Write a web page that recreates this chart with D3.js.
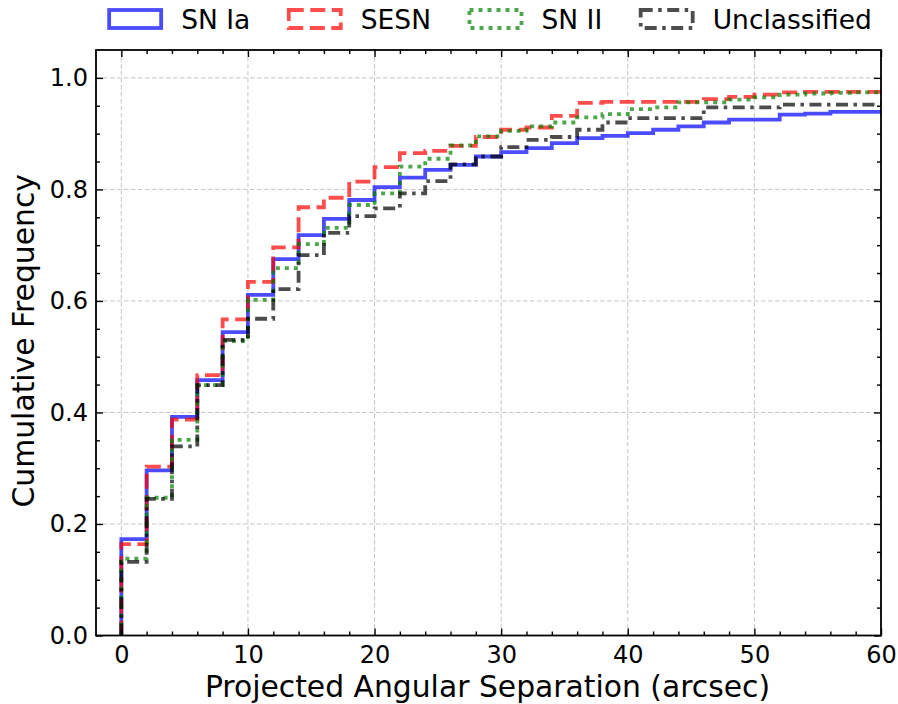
<!DOCTYPE html>
<html>
<head>
<meta charset="utf-8">
<script src="https://cdn.jsdelivr.net/npm/d3@7"></script>
<style>
  html, body { margin: 0; padding: 0; background: #ffffff; }
  svg { display: block; font-family: "DejaVu Sans", sans-serif; }
</style>
</head>
<body>
<svg id="chart" width="898" height="704"></svg>
<script>
// Bin edges of the cumulative histograms (arcsec, width 2)
const binStarts = d3.range(0, 60, 2);
const binEnd = 60;

// Cumulative fraction at the end of each bin
const snIa = [0.173, 0.296, 0.392, 0.458, 0.544, 0.611, 0.675, 0.718, 0.747, 0.781,
              0.804, 0.821, 0.835, 0.844, 0.859, 0.867, 0.874, 0.883, 0.892, 0.896,
              0.901, 0.907, 0.913, 0.920, 0.925, 0.925, 0.934, 0.936, 0.939, 0.939];
const sesn = [0.164, 0.303, 0.387, 0.467, 0.567, 0.634, 0.696, 0.768, 0.785, 0.814,
              0.840, 0.865, 0.869, 0.878, 0.894, 0.907, 0.911, 0.932, 0.955, 0.957,
              0.957, 0.957, 0.957, 0.962, 0.966, 0.970, 0.974, 0.975, 0.975, 0.975];
const snII = [0.138, 0.247, 0.351, 0.449, 0.528, 0.602, 0.659, 0.702, 0.731, 0.772,
              0.793, 0.841, 0.855, 0.879, 0.895, 0.905, 0.913, 0.920, 0.929, 0.935,
              0.944, 0.947, 0.956, 0.956, 0.961, 0.965, 0.970, 0.972, 0.973, 0.974];
const unclassified = [0.132, 0.245, 0.339, 0.449, 0.530, 0.568, 0.621, 0.682, 0.722, 0.752,
              0.766, 0.793, 0.815, 0.845, 0.859, 0.876, 0.889, 0.894, 0.907, 0.920,
              0.928, 0.928, 0.928, 0.947, 0.947, 0.947, 0.952, 0.952, 0.952, 0.952];

const seriesNames = ["SN Ia", "SESN", "SN II", "Unclassified"];
const seriesValues = [snIa, sesn, snII, unclassified];
const seriesColors = ["#0000ff", "#ff0000", "#008000", "#000000"];
const seriesDashes = [null, "15,6.5", "4,5", "12,5.5,3.5,5.5"];

const xTicks = [0, 10, 20, 30, 40, 50, 60];
const yTicks = [0.0, 0.2, 0.4, 0.6, 0.8, 1.0];

const svg = d3.select("#chart");
const m = { left: 96, right: 881, top: 50, bottom: 635.5 };

const x = d3.scaleLinear().domain([-2, 60]).range([m.left, m.right]);
const y = d3.scaleLinear().domain([0, 1.05]).range([m.bottom, m.top]);

svg.append("defs").append("clipPath").attr("id", "plotClip")
  .append("rect")
  .attr("x", m.left).attr("y", m.top)
  .attr("width", m.right - m.left).attr("height", m.bottom - m.top);

// Grid at major ticks
const grid = svg.append("g").attr("stroke", "#c4c4c4").attr("stroke-width", 1)
  .attr("stroke-dasharray", "4.5,2.5");
grid.selectAll("line.gx").data(xTicks).join("line")
  .attr("x1", d => x(d)).attr("x2", d => x(d))
  .attr("y1", m.top).attr("y2", m.bottom);
grid.selectAll("line.gy").data(yTicks).join("line")
  .attr("x1", m.left).attr("x2", m.right)
  .attr("y1", d => y(d)).attr("y2", d => y(d));

// Cumulative step outlines (they continue past the right edge of the axes)
const stepLine = d3.line()
  .x(d => x(d[0])).y(d => y(d[1]))
  .curve(d3.curveStepAfter);

const curves = svg.append("g").attr("clip-path", "url(#plotClip)");
seriesValues.forEach((vals, i) => {
  const pts = [[0, 0]];
  vals.forEach((v, j) => pts.push([binStarts[j], v]));
  pts.push([binEnd + 1, vals[vals.length - 1]]);
  curves.append("path")
    .attr("d", stepLine(pts))
    .attr("fill", "none")
    .attr("stroke", seriesColors[i])
    .attr("stroke-opacity", 0.7)
    .attr("stroke-width", 3.8)
    .attr("stroke-linejoin", "miter")
    .attr("stroke-dasharray", seriesDashes[i]);
});

// Axes with inward ticks on all four sides
const tickFont = 24;
const xMinor = d3.range(0, 61, 2).filter(v => v % 10 !== 0);
const yMinor = d3.range(0, 21).map(k => k * 0.05).filter(v => Math.round(v * 100) % 20 !== 0);

const axB = svg.append("g").attr("transform", `translate(0,${m.bottom})`)
  .call(d3.axisBottom(x).tickValues(xTicks).tickSizeInner(-7).tickSizeOuter(0).tickPadding(10));
const axBm = svg.append("g").attr("transform", `translate(0,${m.bottom})`)
  .call(d3.axisBottom(x).tickValues(xMinor).tickSizeInner(-4).tickSizeOuter(0).tickFormat(""));
const axT = svg.append("g").attr("transform", `translate(0,${m.top})`)
  .call(d3.axisTop(x).tickValues(xTicks).tickSizeInner(-7).tickSizeOuter(0).tickFormat(""));
const axTm = svg.append("g").attr("transform", `translate(0,${m.top})`)
  .call(d3.axisTop(x).tickValues(xMinor).tickSizeInner(-4).tickSizeOuter(0).tickFormat(""));
const axL = svg.append("g").attr("transform", `translate(${m.left},0)`)
  .call(d3.axisLeft(y).tickValues(yTicks).tickFormat(d3.format(".1f")).tickSizeInner(-7).tickSizeOuter(0).tickPadding(8));
const axLm = svg.append("g").attr("transform", `translate(${m.left},0)`)
  .call(d3.axisLeft(y).tickValues(yMinor).tickSizeInner(-4).tickSizeOuter(0).tickFormat(""));
const axR = svg.append("g").attr("transform", `translate(${m.right},0)`)
  .call(d3.axisRight(y).tickValues(yTicks).tickSizeInner(-7).tickSizeOuter(0).tickFormat(""));
const axRm = svg.append("g").attr("transform", `translate(${m.right},0)`)
  .call(d3.axisRight(y).tickValues(yMinor).tickSizeInner(-4).tickSizeOuter(0).tickFormat(""));

[axB, axBm, axT, axTm, axL, axLm, axR, axRm].forEach(g => {
  g.select(".domain").remove();
  g.selectAll(".tick line").attr("stroke", "#000").attr("stroke-width", 1.4);
  g.selectAll(".tick text").attr("font-family", "DejaVu Sans").attr("font-size", tickFont).attr("fill", "#000");
});

// Frame
svg.append("rect")
  .attr("x", m.left).attr("y", m.top)
  .attr("width", m.right - m.left).attr("height", m.bottom - m.top)
  .attr("fill", "none").attr("stroke", "#000").attr("stroke-width", 1.8);

// Axis titles
svg.append("text")
  .attr("x", (m.left + m.right) / 2 - 1).attr("y", 697)
  .attr("text-anchor", "middle").attr("font-size", 29.8).attr("fill", "#000")
  .text("Projected Angular Separation (arcsec)");
svg.append("text")
  .attr("transform", `translate(34,${(m.top + m.bottom) / 2 - 2}) rotate(-90)`)
  .attr("text-anchor", "middle").attr("font-size", 29.8).attr("fill", "#000")
  .text("Cumulative Frequency");

// Legend above the axes, one row
const legFont = 26.5, handleW = 52, handleH = 18, textPad = 20, colGap = 38.5;
const legend = svg.append("g");
const entries = seriesNames.map((name, i) => {
  const g = legend.append("g");
  g.append("rect")
    .attr("x", 0).attr("y", -handleH / 2)
    .attr("width", handleW).attr("height", handleH)
    .attr("fill", "none")
    .attr("stroke", seriesColors[i]).attr("stroke-opacity", 0.7)
    .attr("stroke-width", 3.8)
    .attr("stroke-dasharray", seriesDashes[i]);
  const t = g.append("text")
    .attr("x", handleW + textPad).attr("y", 9.5)
    .attr("font-size", legFont).attr("fill", "#000")
    .text(name);
  return { g, w: handleW + textPad + t.node().getComputedTextLength() };
});
const totalW = d3.sum(entries, e => e.w) + colGap * (entries.length - 1);
let cx = 490.5 - totalW / 2;
entries.forEach(e => {
  e.g.attr("transform", `translate(${cx},19)`);
  cx += e.w + colGap;
});
</script>
</body>
</html>
